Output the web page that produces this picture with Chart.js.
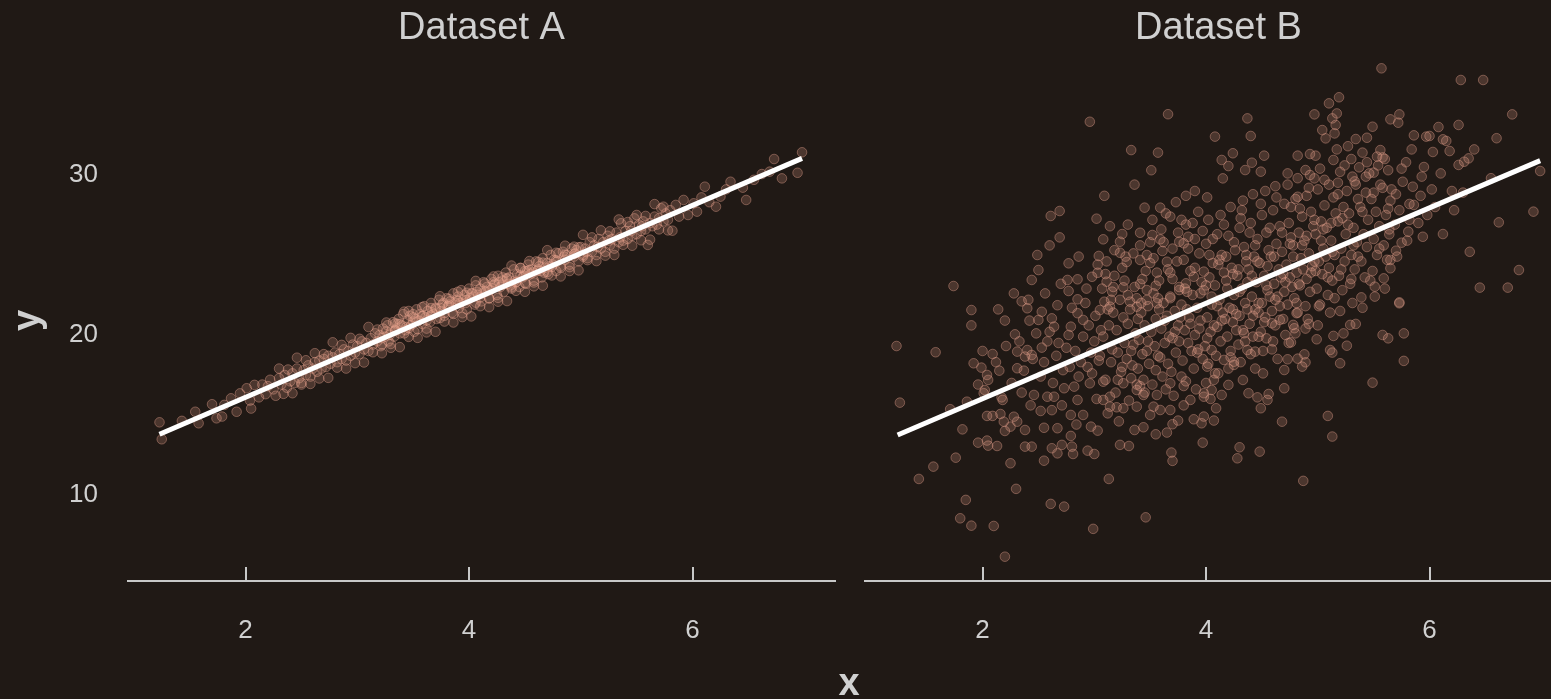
<!DOCTYPE html>
<html>
<head>
<meta charset="utf-8">
<title>Dataset A / Dataset B</title>
<script src="https://cdn.jsdelivr.net/npm/chart.js@4.4.1/dist/chart.umd.min.js"></script>
<style>
  html, body { margin: 0; padding: 0; }
  body {
    width: 1551px; height: 699px; overflow: hidden; position: relative;
    background: #201915; font-family: "Liberation Sans", Arial, sans-serif;
  }
  .panel { position: absolute; top: 0; width: 850px; height: 699px; }
  #panelA { left: 0; }
  #panelB { left: 737px; }
  #xTitle {
    position: absolute; left: 809px; top: 663px; width: 80px; text-align: center;
    font: bold 38px/38px "Liberation Sans", Arial, sans-serif; color: #d0d0d0;
  }
</style>
</head>
<body>
<div class="panel" id="panelA"><canvas id="chartA" width="850" height="699"></canvas></div>
<div class="panel" id="panelB"><canvas id="chartB" width="850" height="699"></canvas></div>
<div id="xTitle">x</div>
<script>
// ─── Data ───────────────────────────────────────────────────────────────────
const titles = ["Dataset A", "Dataset B"];
const xTicks = [2, 4, 6];
const yTicks = [10, 20, 30];
const xRange = [0.948, 7.275];
const yRange = [4.62, 37.19];

// fitted lines, drawn as two end points
const fitA = [[1.23, 13.79], [6.98, 31.04]];
const fitB = [[1.24, 13.75], [6.99, 30.9]];

const pointsA = [
  [1.23,14.54],[1.25,13.48],[1.43,14.63],[1.55,15.2],[1.58,14.48],[1.70,15.67],[1.74,14.79],[1.79,14.9],
  [1.81,15.63],[1.87,16.04],[1.92,15.2],[1.95,16.35],[2.01,16.67],[2.05,15.4],[2.04,15.9],[2.08,16.88],
  [2.12,16.1],[2.15,16.9],[2.18,16.3],[2.2,16.8],[2.22,17.2],[2.25,16.6],[2.27,16.2],[2.3,17.3],
  [2.32,16.9],[2.35,17.5],[2.37,16.7],[2.4,17.1],[2.42,17.6],[2.44,17.0],[2.46,17.9],[2.48,17.3],
  [2.5,16.9],[2.52,17.8],[2.54,17.5],[2.56,18.1],[2.58,17.4],[2.6,17.9],[2.62,18.3],[2.64,17.7],
  [2.66,18.4],[2.68,17.9],[2.7,18.5],[2.72,18.0],[2.74,18.7],[2.76,18.2],[2.78,18.6],[2.8,18.9],
  [2.82,18.3],[2.84,18.8],[2.86,18.5],[2.88,19.1],[2.9,18.4],[2.92,19.0],[2.94,18.7],[2.96,19.4],
  [2.98,18.9],[3.0,19.3],[3.02,18.8],[3.04,19.6],[3.06,19.1],[3.08,19.5],[3.1,19.0],[3.12,19.8],
  [3.14,19.4],[3.16,20.1],[3.18,19.6],[3.2,20.0],
  [3.21,19.3],[3.23,20.4],[3.25,19.9],[3.27,20.6],[3.28,19.6],[3.3,20.2],[3.32,20.8],[3.33,19.9],
  [3.35,20.4],[3.37,21.0],[3.38,20.1],[3.4,20.6],[3.41,21.3],[3.43,20.3],[3.45,20.9],[3.46,21.5],
  [3.48,20.6],[3.5,21.1],[3.51,20.2],[3.53,21.6],[3.55,20.9],[3.56,21.3],[3.58,20.7],[3.6,21.8],
  [3.61,21.1],[3.63,21.5],[3.65,20.8],[3.66,22.0],[3.68,21.3],[3.7,21.7],[3.71,21.0],[3.73,22.2],
  [3.75,21.5],[3.76,21.9],[3.78,21.2],[3.8,22.3],[3.81,21.8],[3.83,22.1],[3.85,21.4],[3.86,22.6],
  [3.88,22.0],[3.9,22.4],[3.91,21.7],[3.93,22.8],[3.95,22.2],[3.96,22.5],[3.98,21.6],[4.0,22.9],
  [4.01,22.3],[4.03,22.6],[4.05,21.9],[4.06,23.1],[4.08,22.5],[4.1,22.9],[4.11,22.1],[4.13,23.3],
  [4.15,22.7],[4.16,23.0],[4.18,22.3],[4.2,23.5],[4.21,22.9],[4.23,23.2],[4.25,22.5],[4.26,23.7],
  [4.28,23.0],[4.3,23.4],[4.31,22.7],[4.33,23.9],[4.35,23.2],[4.36,23.6],[4.38,22.9],[4.4,24.1],
  [4.41,23.4],[4.43,23.8],[4.45,23.0],[4.46,24.2],[4.48,23.6],[4.5,24.0],[4.51,23.2],[4.53,24.4],
  [4.55,23.8],[4.56,24.1],[4.58,23.4],[4.6,24.6],[4.61,24.0],[4.63,24.3],[4.65,23.6],[4.66,24.8],
  [4.68,24.2],[4.7,24.5],[4.71,23.8],[4.73,25.0],[4.75,24.4],[4.76,24.7],[4.78,24.0],[4.8,25.1],
  [3.22,19.8],[3.29,20.0],[3.36,20.7],[3.44,20.5],[3.52,21.0],[3.59,21.2],[3.67,21.4],[3.74,21.7],
  [3.82,21.9],[3.89,22.2],[3.97,22.0],[4.04,22.4],[4.12,22.6],[4.19,22.8],[4.27,23.3],[4.34,23.5],
  [4.42,23.3],[4.49,23.7],[4.57,23.9],[4.64,24.0],[4.72,24.3],[4.79,24.6],[3.34,20.3],[3.47,21.2],
  [3.62,20.9],[3.77,22.0],[3.92,22.0],[4.07,22.7],[4.22,23.3],[4.37,23.1],[4.52,24.0],[4.67,23.9],
  [4.82,24.3],[4.84,25.2],[4.86,24.7],[4.88,25.0],[4.9,24.4],[4.92,25.4],[4.94,24.9],[4.96,25.3],
  [4.98,24.6],[5.0,25.5],[5.02,25.0],[5.04,25.4],[5.06,24.8],[5.08,25.8],[5.1,25.2],[5.12,25.6],
  [5.14,25.0],[5.16,26.0],[5.18,25.4],[5.2,25.8],[5.22,25.2],[5.24,26.2],[5.26,25.6],[5.28,26.0],
  [5.3,25.4],[5.32,26.4],[5.34,25.8],[5.36,26.98],[5.38,25.9],[5.4,26.5],[5.42,26.0],[5.44,26.8],
  [5.46,26.2],[5.48,27.29],[5.5,26.3],[5.52,26.9],[5.54,26.5],[5.56,27.1],[5.58,26.6],[5.6,25.63],
  [5.62,27.0],[5.64,26.8],[5.66,27.4],[5.68,26.9],[5.7,27.3],[5.72,27.92],[5.74,27.1],[5.76,27.6],
  [5.78,27.2],[5.8,27.8],[5.82,26.52],[5.85,28.13],[4.85,24.9],[4.95,25.1],[5.05,25.2],[5.15,25.5],
  [5.25,25.9],[5.35,26.1],[5.45,26.5],[5.55,26.8],
  [5.88,27.4],[5.92,28.44],[5.96,27.5],[6.01,28.23],[6.04,27.71],[6.08,28.6],[6.11,29.27],[6.15,28.3],
  [6.21,28.02],[6.25,28.65],[6.3,29.1],[6.34,29.58],[6.45,29.21],[6.48,28.44],[6.55,29.7],[6.62,30.06],
  [6.69,30.21],[6.73,31.0],[6.8,29.79],[6.94,30.14],[6.98,31.42],
  // outer edge of the band
  [2.30,17.90],[2.34,16.32],[2.38,17.84],[2.42,16.36],[2.46,18.58],[2.50,17.00],[2.54,18.42],[2.58,16.94],
  [2.62,18.86],[2.66,17.28],[2.70,18.80],[2.74,17.32],[2.78,19.54],[2.82,17.96],[2.86,19.38],[2.90,17.90],
  [2.94,19.82],[2.98,18.24],[3.02,19.76],[3.06,18.28],[3.10,20.50],[3.14,18.92],[3.18,20.34],[3.22,18.86],
  [3.26,20.78],[3.30,19.20],[3.34,20.72],[3.38,19.24],[3.42,21.46],[3.46,19.88],[3.50,21.30],[3.54,19.82],
  [3.58,21.74],[3.62,20.16],[3.66,21.68],[3.70,20.20],[3.74,22.42],[3.78,20.84],[3.82,22.26],[3.86,20.78],
  [3.90,22.70],[3.94,21.12],[3.98,22.64],[4.02,21.16],[4.06,23.38],[4.10,21.80],[4.14,23.22],[4.18,21.74],
  [4.22,23.66],[4.26,22.08],[4.30,23.60],[4.34,22.12],[4.38,24.34],[4.42,22.76],[4.46,24.18],[4.50,22.70],
  [4.54,24.62],[4.58,23.04],[4.62,24.56],[4.66,23.08],[4.70,25.30],[4.74,23.72],[4.78,25.14],[4.82,23.66],
  [4.86,25.58],[4.90,24.00],[4.94,25.52],[4.98,24.04],[5.02,26.26],[5.06,24.68],[5.10,26.10],[5.14,24.62],
  [5.18,26.54],[5.22,24.96],[5.26,26.48],[5.30,25.00],[5.34,27.22],[5.38,25.64],[5.42,27.06],[5.46,25.58],
  [5.50,27.50],[5.54,25.92],[5.58,27.44],[5.62,25.96],[5.66,28.18],[5.70,26.60],[5.74,28.02],[5.78,26.54],
  // core of the band
  [3.22,19.40],[3.26,20.22],[3.30,19.44],[3.34,20.26],[3.38,20.68],[3.42,20.10],[3.46,20.42],[3.50,20.84],
  [3.54,20.36],[3.58,21.18],[3.62,20.40],[3.66,21.22],[3.70,21.64],[3.74,21.06],[3.78,21.38],[3.82,21.80],
  [3.86,21.32],[3.90,22.14],[3.94,21.36],[3.98,22.18],[4.02,22.60],[4.06,22.02],[4.10,22.34],[4.14,22.76],
  [4.18,22.28],[4.22,23.10],[4.26,22.32],[4.30,23.14],[4.34,23.56],[4.38,22.98],[4.42,23.30],[4.46,23.72],
  [4.50,23.24],[4.54,24.06],[4.58,23.28],[4.62,24.10],[4.66,24.52],[4.70,23.94],[4.74,24.26],[4.78,24.68],
  [4.82,24.20],[4.86,25.02],[4.90,24.24],[4.94,25.06],[4.98,25.48],[5.02,24.90]
];

const pointsB = [
  // upper left
  [2.96,33.33],[3.66,33.8],[3.33,31.56],[3.57,31.4],[3.51,30.3],[3.36,29.4],[3.09,28.7],[3.9,29.0],
  [3.82,28.7],[3.45,27.96],[3.59,27.96],[3.64,27.6],[3.68,27.4],[3.78,27.2],[2.61,27.44],[2.69,27.75],
  [3.02,27.27],[2.69,26.1],[3.08,25.98],[2.49,25.0],[3.04,24.94],[2.77,24.48],[2.5,24.06],[2.44,23.44],
  [1.74,23.06],[1.9,21.56],[1.9,20.6],[2.35,22.1],[2.41,22.2],[2.4,21.67],[2.53,21.45],[2.42,20.9],
  [2.5,20.94],[2.62,21.04],[2.76,23.44],[2.85,23.48],[2.77,22.75],[2.67,21.86],[2.85,22.23],[2.93,22.9],
  [3.26,22.98],[3.41,23.19],[3.47,22.81],[3.55,23.08],[3.23,25.83],[3.25,26.31],[3.41,26.39],[3.52,26.25],
  [3.59,25.98],[3.23,25.14],[3.29,24.56],[3.41,24.69],[3.47,25.0],[3.61,25.25],[3.65,24.58],[3.84,26.14],
  [3.8,25.73],[3.76,25.83],[2.98,23.64],[3.03,23.89],[3.1,23.81],[3.11,23.33],[3.16,22.71],[3.09,22.08],
  [3.14,21.77],[3.05,21.56],[3.32,22.08],[3.38,21.77],[3.47,22.19],[3.56,21.98],[3.68,22.4],[3.76,22.81],
  [3.82,23.23],[3.89,23.64],[3.98,23.96],[2.85,21.36],[2.9,20.94],[2.79,20.52],[2.64,20.52],
  // lower left
  [1.23,19.31],[1.58,18.92],[1.26,15.77],[2.29,20.04],[2.21,19.31],[2.09,18.81],[1.92,18.23],[1.99,17.96],
  [2.04,17.5],[2.05,17.19],[2.15,17.77],[2.31,18.96],[2.4,19.06],[2.38,18.65],[2.44,18.75],[2.53,19.21],
  [2.31,17.92],[2.37,17.77],[1.86,15.83],[1.71,15.36],[2.02,16.56],[2.01,16.36],[2.18,15.94],[2.17,16.1],
  [2.04,14.94],[2.09,14.94],[2.16,15.06],[2.19,14.58],[2.28,14.89],[2.31,14.58],[2.25,14.27],[2.38,14.06],
  [1.82,14.1],[1.96,13.27],[2.04,13.4],[2.05,13.08],[2.13,13.06],[2.38,13.02],[2.44,13.02],[1.76,12.33],
  [1.56,11.77],[1.43,11.0],[2.25,11.98],[2.3,10.38],[1.85,9.69],[1.8,8.54],[1.9,8.08],[2.1,8.06],
  [2.2,6.14],[2.55,12.14],[2.62,12.92],[2.67,12.6],[2.71,13.13],[2.79,13.69],[2.8,13.02],[2.81,12.56],
  [2.94,12.77],[3.0,12.56],[2.61,9.44],[2.73,9.27],[2.99,7.88],[3.13,11.0],[3.46,8.6],[3.23,13.13],
  [3.31,13.06],[2.67,14.17],[2.52,15.25],[2.46,16.25],[2.58,16.14],[2.64,16.14],[2.73,16.67],[2.82,16.77],
  [2.85,15.94],[2.9,15.0],[3.03,14.02],[2.97,14.27],[2.79,15.0],[3.36,14.06],[3.44,14.23],[3.55,13.79],
  [3.65,13.9],[3.7,14.42],[3.75,14.65],[3.69,12.65],[3.7,12.13],[3.97,13.27],[3.89,14.73],[3.96,14.48],
  [3.08,15.94],[3.14,15.52],[3.2,15.48],[3.26,15.42],[3.38,15.52],[3.53,15.52],[3.59,15.31],[3.68,15.31],
  [3.86,15.94],[3.98,16.14],[3.8,16.81],[2.96,16.98],[3.08,17.08],[3.14,16.14],[3.26,16.98],[3.38,16.56],
  [3.44,16.25],[3.56,16.25],[3.68,16.98],
  // lower right
  [5.73,21.98],[5.58,20.0],[5.63,19.79],[5.77,20.1],[5.77,18.38],[5.49,17.02],[5.26,19.33],[5.2,18.23],
  [5.14,19.94],[5.23,20.1],[5.29,20.63],[5.34,20.69],[5.11,19.06],[5.13,18.9],[4.99,19.73],[4.92,20.69],
  [5.09,14.94],[5.13,13.65],[4.87,10.88],[4.68,14.58],[4.48,12.71],[4.3,12.98],[4.28,12.29],[4.07,14.65],
  [4.7,16.67],[4.7,17.81],[4.76,19.54],[4.73,18.48],[4.82,18.52],[4.88,18.79],[4.89,18.29],[4.86,18.02],
  [4.49,15.42],[4.55,15.94],[4.56,16.31],[4.46,16.1],[4.38,16.36],[4.33,17.19],[4.2,16.88],[4.14,16.25],
  [4.09,15.42],[4.79,20.42],[4.78,20.63],[4.81,21.36],[4.66,20.94],[4.59,20.73],[4.54,19.79],[4.47,19.89],
  [4.44,18.96],[4.37,19.06],[4.34,20.11],[4.25,18.33],[4.25,18.13],[4.16,18.44],[4.05,19.06],[4.01,18.02],
  [4.07,17.19],[4.05,16.56],[3.98,16.36],[3.98,14.9],
  // upper right
  [5.57,36.67],[6.28,35.94],[6.48,35.94],[6.74,33.79],[6.26,33.13],[6.12,32.23],[6.15,32.13],[5.86,32.48],
  [5.97,32.4],[6.0,32.44],[6.03,31.44],[6.26,30.63],[6.31,30.83],[6.35,31.04],[6.99,30.25],[6.93,27.71],
  [6.62,27.04],[6.8,24.06],[6.45,22.96],[6.7,22.96],[6.2,29.0],[6.12,26.31],[5.73,22.04],[5.93,29.9],
  [5.85,29.27],[5.76,29.58],[5.66,29.1],[5.82,28.19],[5.86,28.13],[5.98,27.5],[5.94,26.14],[5.81,26.46],
  [5.75,25.77],[5.7,25.27],[5.64,26.29],[5.65,24.69],[5.65,24.17],[5.59,23.54],[5.51,23.02],[5.39,22.35],
  [5.56,31.56],[5.53,31.15],[5.58,31.1],[5.49,33.02],[5.44,32.33],[5.34,32.25],[5.37,30.48],[5.43,29.9],
  [5.5,30.15],[5.31,29.9],[5.18,29.52],[5.14,30.94],[5.65,33.48],[5.72,33.27],[5.73,33.79],[5.19,34.86],
  [5.1,34.48],[5.17,33.85],[5.13,33.54],[5.16,33.13],[5.15,32.6],[5.07,32.29],[5.04,32.81],[4.97,33.79],
  [4.82,31.21],[4.93,31.31],[4.98,31.21],[4.89,30.31],[4.97,29.79],[4.82,28.64],[4.37,33.54],[4.4,32.44],
  [4.08,32.4],[4.24,31.36],[4.14,30.94],[4.2,30.56],[4.52,31.21],[4.41,30.77],[4.35,30.31],[4.73,30.1],
  [4.49,30.21],[4.15,29.79],
  // dense middle
  [3.02,16.0],[2.98,17.6],[3.04,18.4],[3.0,19.6],[3.06,20.3],[3.01,21.2],[3.07,22.9],[2.97,18.9],[3.03,24.4],
  [3.12,15.1],[3.1,17.2],[3.15,18.3],[3.08,19.9],[3.13,20.6],[3.17,21.4],[3.11,24.6],[3.16,19.1],[3.14,26.8],
  [3.22,14.6],[3.19,16.4],[3.24,17.7],[3.21,18.9],[3.2,20.3],[3.26,21.1],[3.23,22.2],[3.18,23.7],[3.27,19.5],[3.25,24.2],
  [3.31,15.9],[3.33,17.3],[3.29,18.5],[3.35,19.4],[3.3,20.7],[3.32,21.6],[3.36,23.0],[3.28,24.9],[3.34,18.1],[3.37,20.1],[3.3,26.9],
  [3.41,16.8],[3.39,17.9],[3.43,18.8],[3.4,19.7],[3.45,20.6],[3.42,21.4],[3.38,22.3],[3.46,24.0],[3.44,17.2],[3.41,25.6],[3.47,19.0],
  [3.5,15.0],[3.52,16.9],[3.49,18.2],[3.54,19.3],[3.51,20.2],[3.55,21.0],[3.48,21.8],[3.53,22.6],[3.56,23.9],[3.5,24.5],[3.57,18.7],[3.52,27.2],
  [3.61,17.4],[3.59,18.6],[3.63,19.5],[3.6,20.4],[3.65,21.2],[3.62,22.0],[3.58,23.4],[3.66,24.1],[3.64,16.6],[3.6,26.6],[3.67,19.9],
  [3.71,16.2],[3.69,17.7],[3.73,18.9],[3.7,19.8],[3.75,20.6],[3.72,21.5],[3.68,22.3],[3.76,23.0],[3.74,24.6],[3.7,25.4],[3.77,21.1],[3.73,28.3],
  [3.8,15.6],[3.82,17.1],[3.79,18.4],[3.84,19.5],[3.81,20.3],[3.85,21.1],[3.78,21.9],[3.83,22.7],[3.86,24.0],[3.8,24.7],[3.87,19.0],[3.82,26.9],
  [3.91,16.6],[3.89,17.9],[3.93,19.1],[3.9,20.0],[3.95,20.9],[3.92,21.7],[3.88,22.5],[3.96,23.3],[3.94,25.1],[3.9,26.0],[3.97,18.5],[3.93,27.7],
  [4.0,17.0],[4.02,18.2],[3.99,19.3],[4.04,20.2],[4.01,21.1],[4.05,21.9],[3.98,22.8],[4.03,23.6],[4.06,24.5],[4.0,25.7],[4.07,20.6],[4.02,27.2],[4.04,16.0],[4.01,28.6],
  [4.11,17.6],[4.09,18.7],[4.13,19.6],[4.1,20.5],[4.15,21.4],[4.12,22.2],[4.08,23.1],[4.16,23.9],[4.14,25.0],[4.1,26.3],[4.17,21.0],[4.13,27.5],[4.11,24.4],
  [4.2,17.9],[4.22,19.0],[4.19,19.9],[4.24,20.8],[4.21,21.7],[4.25,22.5],[4.18,23.4],[4.23,24.2],[4.26,25.3],[4.2,26.2],[4.27,21.3],[4.22,28.0],[4.24,23.8],
  [4.31,18.3],[4.29,19.4],[4.33,20.3],[4.3,21.2],[4.35,22.0],[4.32,22.9],[4.28,23.7],[4.36,24.6],[4.34,25.5],[4.3,26.7],[4.37,21.6],[4.33,28.4],[4.31,27.3],
  [4.4,18.8],[4.42,19.9],[4.39,20.7],[4.44,21.6],[4.41,22.4],[4.45,23.3],[4.38,24.1],[4.43,24.9],[4.46,26.0],[4.4,27.0],[4.47,22.0],[4.42,28.8],[4.44,25.6],
  [4.51,19.0],[4.49,20.2],[4.53,21.1],[4.5,22.0],[4.55,22.8],[4.52,23.7],[4.48,24.5],[4.56,25.3],[4.54,26.4],[4.5,27.5],[4.57,22.4],[4.53,29.0],[4.51,17.6],
  [4.6,19.6],[4.62,20.6],[4.59,21.5],[4.64,22.4],[4.61,23.2],[4.65,24.1],[4.58,24.9],[4.63,25.7],[4.66,26.8],[4.6,27.8],[4.67,23.6],[4.62,29.3],[4.64,18.5],
  [4.71,20.0],[4.69,21.0],[4.73,21.9],[4.7,22.7],[4.75,23.6],[4.72,24.4],[4.68,25.2],[4.76,26.1],[4.74,27.0],[4.7,28.2],[4.77,23.0],[4.73,29.4],
  [4.8,20.1],[4.82,21.4],[4.79,22.3],[4.84,23.1],[4.81,23.9],[4.85,24.8],[4.78,25.6],[4.83,26.4],[4.86,27.4],[4.8,28.5],[4.87,24.1],[4.82,29.8],
  [4.91,21.0],[4.89,21.8],[4.93,22.7],[4.9,23.5],[4.95,24.3],[4.92,25.1],[4.88,25.9],[4.96,26.8],[4.94,27.7],[4.9,28.7],[4.97,24.6],[4.93,30.0],
  [5.0,20.6],[5.02,21.9],[4.99,22.9],[5.04,23.8],[5.01,24.6],[5.05,25.4],[4.98,26.3],[5.03,27.1],[5.06,28.1],[5.0,29.1],[5.07,24.9],[5.02,30.4],
  [5.11,21.4],[5.09,22.5],[5.13,23.4],[5.1,24.2],[5.15,25.0],[5.12,25.9],[5.08,26.7],[5.16,27.6],[5.14,28.6],[5.1,29.4],[5.17,31.6],
  [5.2,21.5],[5.22,22.8],[5.19,23.7],[5.24,24.6],[5.21,25.4],[5.25,26.3],[5.18,27.1],[5.23,28.0],[5.26,29.0],[5.2,30.2],[5.27,31.8],
  [5.31,22.0],[5.29,23.2],[5.33,24.1],[5.3,25.0],[5.35,25.8],[5.32,26.7],[5.28,27.6],[5.36,28.5],[5.34,29.4],[5.3,31.0],
  [5.4,21.7],[5.42,23.6],[5.39,24.6],[5.44,25.5],[5.41,26.3],[5.45,27.2],[5.38,28.0],[5.43,28.9],[5.46,30.1],[5.4,31.4],
  [5.51,22.4],[5.49,24.0],[5.53,25.0],[5.5,26.0],[5.55,26.8],[5.52,27.7],[5.48,28.5],[5.56,29.4],[5.54,30.6],
  [5.6,22.9],[5.62,24.7],[5.59,25.6],[5.64,26.6],[5.61,27.5],[5.65,28.4],[5.58,29.2],[5.63,30.3],
  [5.71,24.9],[5.69,26.9],[5.73,27.8],[5.7,28.8],[5.75,30.4],[5.8,25.9],[5.82,27.2],[5.79,30.8],[5.84,31.6],
  [5.9,27.0],[5.92,28.7],[5.95,30.5],[6.02,29.1],[6.05,28.0],[6.1,30.1],[6.18,31.5],[6.08,33.0],[6.22,27.8],
  [6.3,28.9],[6.4,31.6],[6.55,29.8],[6.6,32.3],[6.36,25.2],
  [2.52,17.4],[2.55,18.3],[2.58,19.6],[2.6,20.2],[2.63,17.0],[2.66,18.7],[2.68,19.5],[2.71,15.6],[2.72,17.8],
  [2.75,19.2],[2.77,20.0],[2.78,18.0],[2.8,21.7],[2.83,19.0],[2.86,17.4],[2.88,18.3],[2.9,19.9],[2.92,22.0],
  [2.94,18.0],[2.95,20.6],[2.56,22.6],[2.7,23.2],[2.86,24.9],[2.62,15.3],[2.84,14.4],[2.48,20.1],[2.45,18.5],
  [2.43,15.6],[2.35,16.4],[2.26,17.0],[2.33,19.6],[2.2,20.9],[2.12,18.3],[2.0,19.0],[1.96,16.9],[2.14,21.6],
  [2.28,22.6],[2.6,25.6],[2.2,14.0],[2.55,14.2],
  [3.15,22.2],[3.18,25.3],[3.21,17.2],[3.27,23.4],[3.33,19.0],[3.35,25.1],[3.39,21.0],[3.43,23.5],[3.45,16.4],
  [3.48,19.6],[3.53,24.8],[3.55,17.8],[3.58,21.6],[3.62,25.8],[3.66,18.2],[3.68,23.9],[3.72,20.2],[3.75,26.4],
  [3.78,17.4],[3.81,22.9],[3.84,25.4],[3.86,20.7],[3.9,24.2],[3.92,18.9],[3.95,22.6],[3.97,26.5],[4.01,19.8],
  [4.03,25.0],[4.05,22.4],[4.08,17.6],[4.12,24.7],[4.14,20.9],[4.16,26.9],[4.19,22.9],[4.22,18.6],[4.25,25.8],
  [4.27,20.3],[4.29,24.1],[4.32,27.8],[4.35,19.6],[4.37,23.3],[4.39,26.4],[4.42,21.2],[4.44,17.9],[4.46,24.6],
  [4.49,28.2],[4.52,20.8],[4.54,23.1],[4.57,26.7],[4.59,19.1],[4.61,24.9],[4.63,28.6],[4.66,21.8],[4.68,26.4],
  [4.71,23.3],[4.74,19.5],[4.76,28.0],[4.78,24.9],[4.81,22.0],[4.84,27.9],[4.86,25.6],[4.89,20.4],[4.92,29.2],
  [4.94,23.9],[4.97,27.2],[5.01,21.8],[5.03,25.9],[5.06,29.7],[5.09,23.6],[5.12,27.0],[5.15,22.3],[5.18,28.8],
  [5.21,24.1],[5.24,30.6],[5.27,26.9],[5.3,23.5],[5.33,29.6],[5.36,24.9],[5.4,27.7],[5.44,30.8],[5.47,23.4],
  [5.5,28.9],[5.55,25.4],[5.6,31.0],[5.63,27.9],[3.05,18.7],[3.12,21.6],[3.17,23.0],[3.25,18.0],[3.3,22.5],
  [3.38,16.9],[3.42,22.0],[3.5,25.8],[3.57,22.3],[3.63,20.9],[3.7,23.5],[3.76,19.6],[3.83,21.6],[3.88,27.0],
  [3.94,20.4],[4.0,23.1],[4.06,26.0],[4.1,21.8],[4.18,24.9],[4.24,21.6],[4.3,22.7],[4.36,25.0],[4.41,23.7],
  [4.47,21.4],[4.55,24.3],[4.62,22.2],[4.69,23.8],[4.75,25.7],[4.83,23.2],[4.9,26.2],[4.98,24.0],[5.05,26.6],
  [5.13,25.2],[5.22,27.3],[5.32,25.6]
];

// ─── Style ──────────────────────────────────────────────────────────────────
const TEXT = "#d0d0d0";
const AXIS = "#c8c8c8";
const FONT = "'Liberation Sans', Arial, sans-serif";
const DOT_FILL = "rgba(236, 166, 144, 0.21)";
const DOT_EDGE = "rgba(236, 166, 144, 0.40)";

// Tick marks sit on top of the axis line, pointing into the plot.
const innerTicks = {
  id: "innerTicks",
  afterDraw(chart) {
    const xs = chart.scales.x;
    const bottom = chart.chartArea.bottom;
    const ctx = chart.ctx;
    ctx.save();
    ctx.strokeStyle = AXIS;
    ctx.lineWidth = 2;
    ctx.beginPath();
    xs.ticks.forEach((t) => {
      const px = Math.round(xs.getPixelForValue(t.value));
      ctx.moveTo(px, bottom - 14);
      ctx.lineTo(px, bottom);
    });
    ctx.stroke();
    ctx.restore();
  },
};

function makePanel(canvasId, title, points, fit, showY) {
  return new Chart(document.getElementById(canvasId), {
    type: "scatter",
    data: {
      datasets: [
        {
          data: fit,
          showLine: true,
          borderColor: "#ffffff",
          borderWidth: 5,
          pointRadius: 0,
          order: 0,
        },
        {
          data: points,
          pointRadius: 4.8,
          backgroundColor: DOT_FILL,
          borderColor: DOT_EDGE,
          borderWidth: 1,
          order: 1,
        },
      ],
    },
    options: {
      responsive: false,
      devicePixelRatio: 1,
      animation: false,
      events: [],
      layout: { padding: { left: 0, right: 15, top: 0, bottom: 0 } },
      plugins: {
        legend: { display: false },
        tooltip: { enabled: false },
        title: {
          display: true,
          text: title,
          fullSize: false,
          color: TEXT,
          font: { family: FONT, size: 38, weight: "normal", lineHeight: 1.2 },
          padding: { top: 6, bottom: 8.4 },
        },
      },
      scales: {
        x: {
          type: "linear",
          min: xRange[0],
          max: xRange[1],
          afterBuildTicks: (s) => { s.ticks = xTicks.map((v) => ({ value: v })); },
          afterFit: (s) => { s.height = 118; },
          grid: { display: false, drawTicks: false },
          border: { display: true, color: AXIS, width: 2 },
          ticks: { color: TEXT, font: { family: FONT, size: 26 }, padding: 34, maxRotation: 0 },
        },
        y: {
          type: "linear",
          min: yRange[0],
          max: yRange[1],
          afterBuildTicks: (s) => { s.ticks = yTicks.map((v) => ({ value: v })); },
          afterFit: (s) => { s.width = 128; },
          grid: { display: false, drawTicks: false },
          border: { display: false },
          ticks: { display: showY, color: TEXT, font: { family: FONT, size: 26 }, padding: 30 },
          title: {
            display: showY,
            text: "y",
            color: TEXT,
            font: { family: FONT, size: 38, weight: "bold", lineHeight: 1.2 },
            padding: { top: 6, bottom: 0 },
          },
        },
      },
    },
    plugins: [innerTicks],
  });
}

makePanel("chartA", titles[0], pointsA, fitA, true);
makePanel("chartB", titles[1], pointsB, fitB, false);
</script>
</body>
</html>
